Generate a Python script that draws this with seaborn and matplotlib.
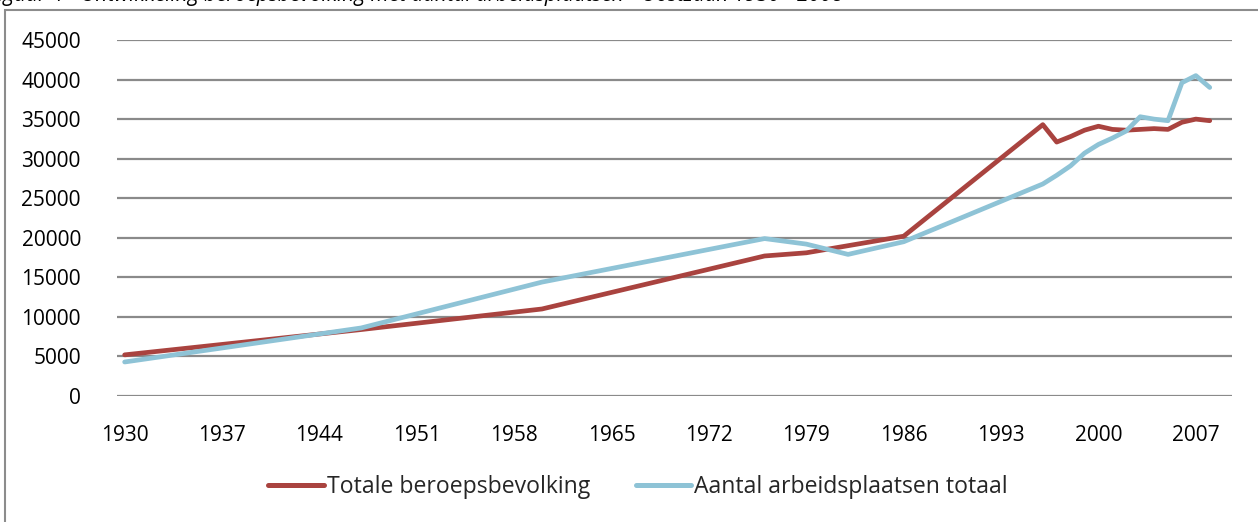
import matplotlib
matplotlib.use("Agg")
import matplotlib.pyplot as plt
import matplotlib.patches as mpatches
import pandas as pd
import seaborn as sns

# data (Excel line chart, yearly categories 1930-2008)
years_bev = [1930, 1947, 1960, 1976, 1979, 1986, 1996, 1997, 1998, 1999, 2000,
             2001, 2002, 2003, 2004, 2005, 2006, 2007, 2008]
beroepsbevolking = [5200, 8400, 11000, 17700, 18100, 20200, 34300, 32100, 32800,
                    33600, 34100, 33700, 33600, 33700, 33800, 33700, 34600, 35000, 34800]

years_arb = [1930, 1947, 1960, 1976, 1979, 1982, 1986, 1996, 1997, 1998, 1999,
             2000, 2001, 2002, 2003, 2004, 2005, 2006, 2007, 2008]
arbeidsplaatsen = [4300, 8600, 14400, 19900, 19200, 17900, 19500, 26800, 27900, 29100,
                   30700, 31800, 32600, 33500, 35300, 35000, 34800, 39600, 40500, 39000]

x_ticks = list(range(1930, 2008, 7))
y_ticks = list(range(0, 45001, 5000))

label_bev = "Totale beroepsbevolking"
label_arb = "Aantal arbeidsplaatsen totaal"
title = "Figuur 4 - Ontwikkeling beroepsbevolking met aantal arbeidsplaatsen - Oostzaan 1930 - 2008"

df = pd.concat([
    pd.DataFrame({"jaar": years_bev, "waarde": beroepsbevolking, "reeks": label_bev}),
    pd.DataFrame({"jaar": years_arb, "waarde": arbeidsplaatsen, "reeks": label_arb}),
])

RED = "#A9433F"
BLUE = "#8EC3D6"
GRID = "#8A8A8A"

sns.set_theme(style="white")
plt.rcParams["font.family"] = ["Open Sans", "DejaVu Sans"]

W, H = 1258, 522
fig = plt.figure(figsize=(W / 100, H / 100), dpi=100)
ax = fig.add_axes([117 / W, 1 - 396 / H, (1232 - 117) / W, (396 - 40) / H])

# chart frame (only left and top edges fall inside the picture)
fig.add_artist(mpatches.Rectangle((5 / W, -0.1), 1.2, 1 - 10 / H + 0.1,
                                  transform=fig.transFigure, fill=False,
                                  edgecolor="#8C8C8C", linewidth=1.5))

for y in y_ticks:
    ax.axhline(y, color=GRID, linewidth=1.6, zorder=0)

sns.lineplot(data=df, x="jaar", y="waarde", hue="reeks",
             palette={label_bev: RED, label_arb: BLUE},
             linewidth=3.4, ax=ax, legend=False, sort=True,
             solid_capstyle="round", solid_joinstyle="round")

ax.set_xlim(1929.45, 2009.6)
ax.set_ylim(0, 45000)
ax.set_xticks(x_ticks)
ax.set_yticks(y_ticks)
ax.set_xticklabels([str(v) for v in x_ticks])
ax.set_yticklabels([str(v) for v in y_ticks])
ax.tick_params(axis="x", length=0, pad=21, labelsize=15, colors="black")
ax.tick_params(axis="y", length=0, pad=26, labelsize=15, colors="black")
ax.set_xlabel("")
ax.set_ylabel("")
for s in ax.spines.values():
    s.set_visible(False)

handles = [plt.Line2D([], [], color=RED, linewidth=3.6),
           plt.Line2D([], [], color=BLUE, linewidth=3.6)]
fig.legend(handles, [label_bev, label_arb], loc="center",
           bbox_to_anchor=(638 / W, 1 - 487 / H), ncol=2, frameon=False,
           fontsize=16.6, handlelength=2.4, handletextpad=0.12, columnspacing=2.0)

# caption above the chart, cut off by the top edge of the picture
fig.text(-12 / W, 1 - 1 / H, title, fontsize=15, style="italic",
         ha="left", va="baseline", color="black")

fig.savefig("out.png", dpi=100)
